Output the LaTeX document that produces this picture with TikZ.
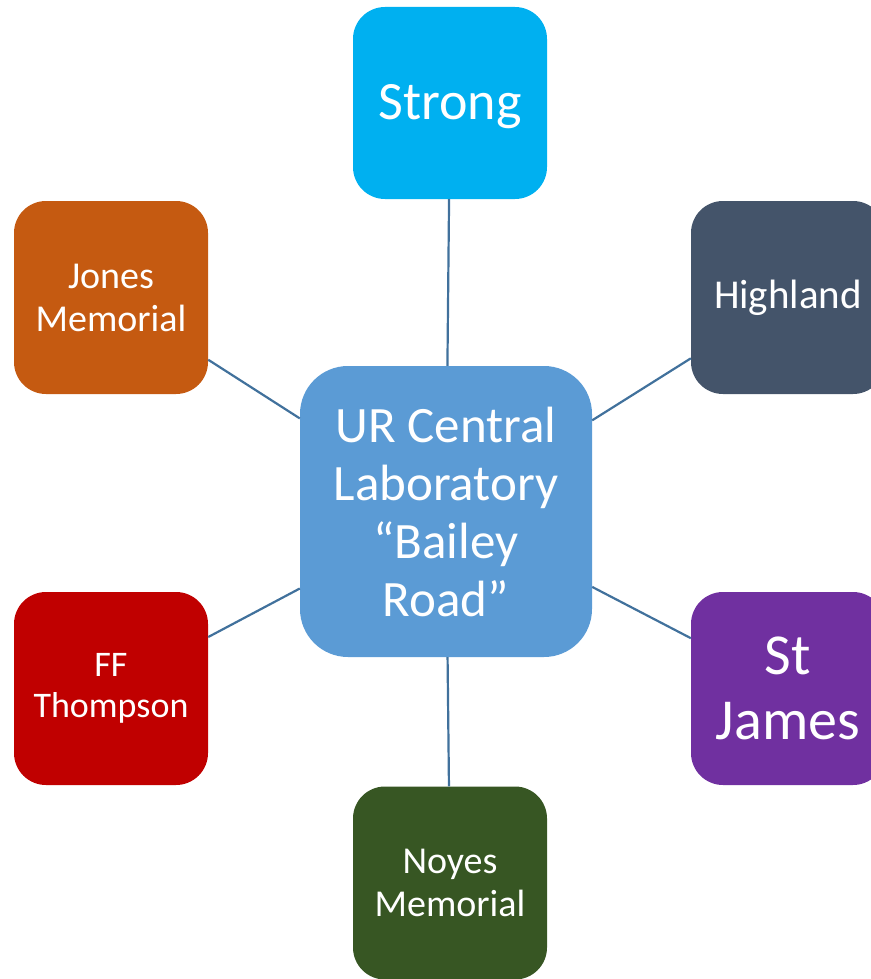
\documentclass[tikz,border=0pt]{standalone}
\usepackage{fontspec}
\setmainfont{Carlito}
\usepackage{tikz}
\usepackage{xcolor}
\usetikzlibrary{calc,positioning,shapes}

\definecolor{strongblue}{HTML}{00B0F0}
\definecolor{jonesorange}{HTML}{C55A11}
\definecolor{highlandgray}{HTML}{44546A}
\definecolor{centralblue}{HTML}{5B9BD5}
\definecolor{ffred}{HTML}{C00000}
\definecolor{jamespurple}{HTML}{7030A0}
\definecolor{noyesgreen}{HTML}{375623}
\definecolor{linkblue}{HTML}{41719C}

\begin{document}
\begin{tikzpicture}[x=1pt,y=-1pt,site/.style={rectangle,rounded corners=32pt,minimum width=194pt,minimum height=193pt,inner sep=0pt,align=center,text=white},link/.style={draw=linkblue,line width=2.2pt}]
      \useasboundingbox (0,0) rectangle (870,979);
      \node[site,fill=centralblue,rounded corners=48pt,minimum width=292pt,minimum height=291pt,font=\fontsize{51}{58}\selectfont] (lab) at (446,511.5) {UR Central\\Laboratory\\``Bailey\\Road''};

      \node[site,fill=strongblue,minimum height=192pt,font=\fontsize{54}{61}\selectfont] (strong) at (450,103) {\raisebox{-4pt}[\height][\depth]{Strong}};
      \node[site,fill=jonesorange,font=\fontsize{38}{43}\selectfont] (jones) at (111,297.5) {Jones\\Memorial};
      \node[site,fill=highlandgray,font=\fontsize{41}{46}\selectfont] (highland) at (788,297.5) {Highland};
      \node[site,fill=ffred,font=\fontsize{36}{41}\selectfont] (ff) at (111,688.5) {FF\\Thompson};
      \node[site,fill=jamespurple,font=\fontsize{58}{65}\selectfont] (james) at (788,688.5) {St\\James};
      \node[site,fill=noyesgreen,font=\fontsize{38}{43}\selectfont] (noyes) at (450,883) {Noyes\\Memorial};

      \draw[link] (strong) -- (lab);
      \draw[link] (jones) -- (lab);
      \draw[link] (highland) -- (lab);
      \draw[link] (ff) -- (lab);
      \draw[link] (james) -- (lab);
      \draw[link] (noyes) -- (lab);
     \end{tikzpicture}
\end{document}
